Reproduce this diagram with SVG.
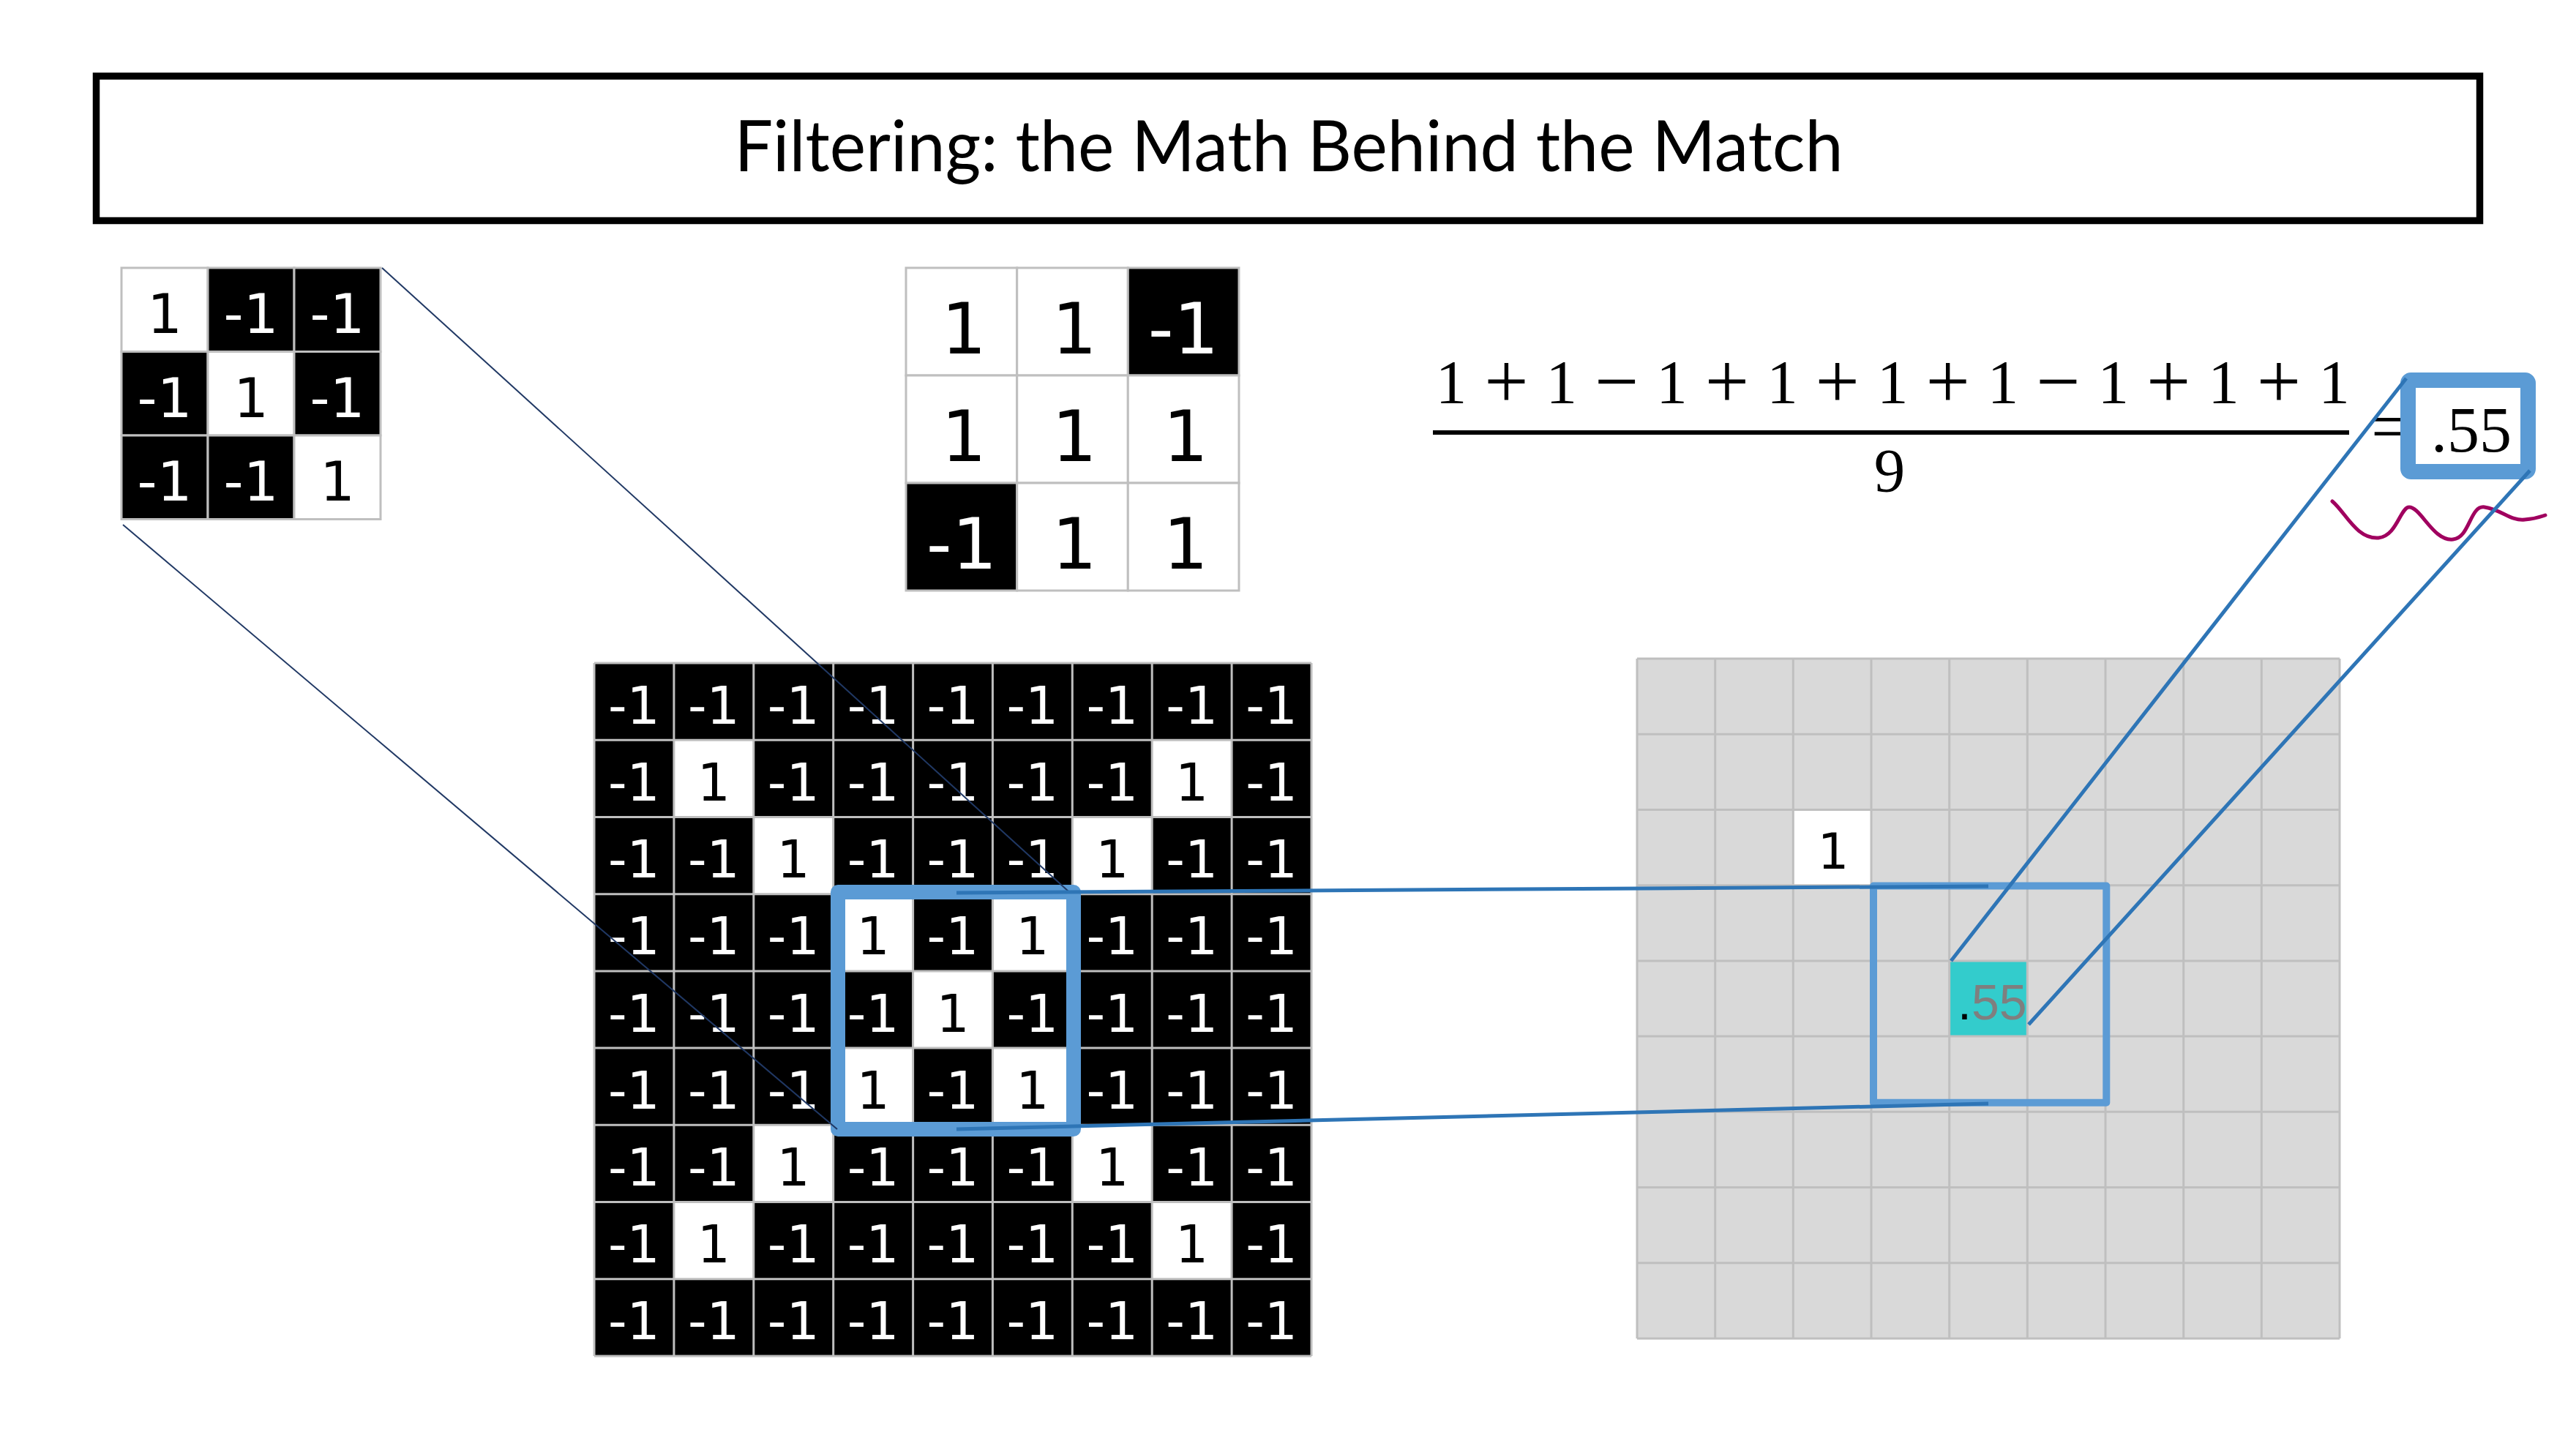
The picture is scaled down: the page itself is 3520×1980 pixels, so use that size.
<svg xmlns="http://www.w3.org/2000/svg" width="3520" height="1980" viewBox="0 0 3520 1980">
<style>
.grid{stroke:#bfbfbf;stroke-width:3}
.gl{fill:none;stroke:#bfbfbf;stroke-width:3}
.blk{fill:#000}
.wht{fill:#fff}
.num{font-family:"DejaVu Sans",sans-serif;text-anchor:middle}
.w{fill:#fff}
.b{fill:#000}
.math{font-family:"Liberation Serif","DejaVu Serif",serif;fill:#000}
.op{font-size:107px}
.conn{stroke:#2E75B6;stroke-width:5;fill:none;stroke-linecap:butt}
.thin{stroke:#203864;stroke-width:2;fill:none}
</style>
<rect width="3520" height="1980" fill="#fff"/>

<g id="title">
<rect x="131.5" y="104" width="3257" height="197.5" fill="#fff" stroke="#000" stroke-width="9.5"/>
<text x="1761" y="234" font-family="Lato,'Open Sans',sans-serif" font-size="96" text-anchor="middle" textLength="1515" lengthAdjust="spacingAndGlyphs" fill="#000">Filtering: the Math Behind the Match</text>
</g>

<g id="filter">
<rect x="166" y="366" width="118" height="114.5" class="wht grid"/>
<rect x="284" y="366" width="118" height="114.5" class="blk grid"/>
<rect x="402" y="366" width="118" height="114.5" class="blk grid"/>
<rect x="166" y="480.5" width="118" height="114.5" class="blk grid"/>
<rect x="284" y="480.5" width="118" height="114.5" class="wht grid"/>
<rect x="402" y="480.5" width="118" height="114.5" class="blk grid"/>
<rect x="166" y="595" width="118" height="114.5" class="blk grid"/>
<rect x="284" y="595" width="118" height="114.5" class="blk grid"/>
<rect x="402" y="595" width="118" height="114.5" class="wht grid"/>
<text class="num" font-size="75" y="455"><tspan x="225" class="b">1</tspan><tspan x="343" class="w">-1</tspan><tspan x="461" class="w">-1</tspan></text>
<text class="num" font-size="75" y="570"><tspan x="225" class="w">-1</tspan><tspan x="343" class="b">1</tspan><tspan x="461" class="w">-1</tspan></text>
<text class="num" font-size="75" y="684"><tspan x="225" class="w">-1</tspan><tspan x="343" class="w">-1</tspan><tspan x="461" class="b">1</tspan></text>
</g>

<g id="product">
<rect x="1238" y="366" width="151.7" height="147" class="wht grid"/>
<rect x="1389.7" y="366" width="151.6" height="147" class="wht grid"/>
<rect x="1541.3" y="366" width="151.7" height="147" class="blk grid"/>
<rect x="1238" y="513" width="151.7" height="147" class="wht grid"/>
<rect x="1389.7" y="513" width="151.6" height="147" class="wht grid"/>
<rect x="1541.3" y="513" width="151.7" height="147" class="wht grid"/>
<rect x="1238" y="660" width="151.7" height="147" class="blk grid"/>
<rect x="1389.7" y="660" width="151.6" height="147" class="wht grid"/>
<rect x="1541.3" y="660" width="151.7" height="147" class="wht grid"/>
<text class="num" font-size="97" y="482.5"><tspan x="1317" class="b">1</tspan><tspan x="1468" class="b">1</tspan><tspan x="1617" class="w">-1</tspan></text>
<text class="num" font-size="97" y="629.5"><tspan x="1317" class="b">1</tspan><tspan x="1468" class="b">1</tspan><tspan x="1620" class="b">1</tspan></text>
<text class="num" font-size="97" y="776.5"><tspan x="1314" class="w">-1</tspan><tspan x="1468" class="b">1</tspan><tspan x="1620" class="b">1</tspan></text>
</g>

<g id="image">
<rect x="812" y="906" width="980" height="947" fill="#000"/>
<g class="wht">
<rect x="920.9" y="1011.2" width="108.9" height="105.2"/>
<rect x="1574.2" y="1011.2" width="108.9" height="105.2"/>
<rect x="1029.8" y="1116.4" width="108.9" height="105.2"/>
<rect x="1465.3" y="1116.4" width="108.9" height="105.2"/>
<rect x="1138.7" y="1221.7" width="108.9" height="105.2"/>
<rect x="1356.4" y="1221.7" width="108.9" height="105.2"/>
<rect x="1247.6" y="1326.9" width="108.9" height="105.2"/>
<rect x="1138.7" y="1432.1" width="108.9" height="105.2"/>
<rect x="1356.4" y="1432.1" width="108.9" height="105.2"/>
<rect x="1029.8" y="1537.3" width="108.9" height="105.2"/>
<rect x="1465.3" y="1537.3" width="108.9" height="105.2"/>
<rect x="920.9" y="1642.6" width="108.9" height="105.2"/>
<rect x="1574.2" y="1642.6" width="108.9" height="105.2"/>
</g>
<path class="gl" d="M812,906V1853M920.9,906V1853M1029.8,906V1853M1138.7,906V1853M1247.6,906V1853M1356.4,906V1853M1465.3,906V1853M1574.2,906V1853M1683.1,906V1853M1792,906V1853M812,906H1792M812,1011.2H1792M812,1116.4H1792M812,1221.7H1792M812,1326.9H1792M812,1432.1H1792M812,1537.3H1792M812,1642.6H1792M812,1747.8H1792M812,1853H1792"/>
<g class="num" font-size="71">
<text y="988.6"><tspan x="866.4" class="w">-1</tspan><tspan x="975.3" class="w">-1</tspan><tspan x="1084.2" class="w">-1</tspan><tspan x="1193.1" class="w">-1</tspan><tspan x="1302" class="w">-1</tspan><tspan x="1410.9" class="w">-1</tspan><tspan x="1519.8" class="w">-1</tspan><tspan x="1628.7" class="w">-1</tspan><tspan x="1737.6" class="w">-1</tspan></text>
<text y="1093.8"><tspan x="866.4" class="w">-1</tspan><tspan x="975.3" class="b">1</tspan><tspan x="1084.2" class="w">-1</tspan><tspan x="1193.1" class="w">-1</tspan><tspan x="1302" class="w">-1</tspan><tspan x="1410.9" class="w">-1</tspan><tspan x="1519.8" class="w">-1</tspan><tspan x="1628.7" class="b">1</tspan><tspan x="1737.6" class="w">-1</tspan></text>
<text y="1199.1"><tspan x="866.4" class="w">-1</tspan><tspan x="975.3" class="w">-1</tspan><tspan x="1084.2" class="b">1</tspan><tspan x="1193.1" class="w">-1</tspan><tspan x="1302" class="w">-1</tspan><tspan x="1410.9" class="w">-1</tspan><tspan x="1519.8" class="b">1</tspan><tspan x="1628.7" class="w">-1</tspan><tspan x="1737.6" class="w">-1</tspan></text>
<text y="1304.3"><tspan x="866.4" class="w">-1</tspan><tspan x="975.3" class="w">-1</tspan><tspan x="1084.2" class="w">-1</tspan><tspan x="1193.1" class="b">1</tspan><tspan x="1302" class="w">-1</tspan><tspan x="1410.9" class="b">1</tspan><tspan x="1519.8" class="w">-1</tspan><tspan x="1628.7" class="w">-1</tspan><tspan x="1737.6" class="w">-1</tspan></text>
<text y="1409.5"><tspan x="866.4" class="w">-1</tspan><tspan x="975.3" class="w">-1</tspan><tspan x="1084.2" class="w">-1</tspan><tspan x="1193.1" class="w">-1</tspan><tspan x="1302" class="b">1</tspan><tspan x="1410.9" class="w">-1</tspan><tspan x="1519.8" class="w">-1</tspan><tspan x="1628.7" class="w">-1</tspan><tspan x="1737.6" class="w">-1</tspan></text>
<text y="1514.7"><tspan x="866.4" class="w">-1</tspan><tspan x="975.3" class="w">-1</tspan><tspan x="1084.2" class="w">-1</tspan><tspan x="1193.1" class="b">1</tspan><tspan x="1302" class="w">-1</tspan><tspan x="1410.9" class="b">1</tspan><tspan x="1519.8" class="w">-1</tspan><tspan x="1628.7" class="w">-1</tspan><tspan x="1737.6" class="w">-1</tspan></text>
<text y="1620"><tspan x="866.4" class="w">-1</tspan><tspan x="975.3" class="w">-1</tspan><tspan x="1084.2" class="b">1</tspan><tspan x="1193.1" class="w">-1</tspan><tspan x="1302" class="w">-1</tspan><tspan x="1410.9" class="w">-1</tspan><tspan x="1519.8" class="b">1</tspan><tspan x="1628.7" class="w">-1</tspan><tspan x="1737.6" class="w">-1</tspan></text>
<text y="1725.2"><tspan x="866.4" class="w">-1</tspan><tspan x="975.3" class="b">1</tspan><tspan x="1084.2" class="w">-1</tspan><tspan x="1193.1" class="w">-1</tspan><tspan x="1302" class="w">-1</tspan><tspan x="1410.9" class="w">-1</tspan><tspan x="1519.8" class="w">-1</tspan><tspan x="1628.7" class="b">1</tspan><tspan x="1737.6" class="w">-1</tspan></text>
<text y="1830.4"><tspan x="866.4" class="w">-1</tspan><tspan x="975.3" class="w">-1</tspan><tspan x="1084.2" class="w">-1</tspan><tspan x="1193.1" class="w">-1</tspan><tspan x="1302" class="w">-1</tspan><tspan x="1410.9" class="w">-1</tspan><tspan x="1519.8" class="w">-1</tspan><tspan x="1628.7" class="w">-1</tspan><tspan x="1737.6" class="w">-1</tspan></text>
</g>
<rect id="patch" x="1145" y="1219" width="322" height="324" fill="none" stroke="#5B9BD5" stroke-width="20" stroke-linejoin="round"/>
</g>

<g id="result-map">
<rect x="2237" y="900" width="960" height="929" fill="#d9d9d9"/>
<rect x="2450.3" y="1106.4" width="106.7" height="103.2" fill="#fff"/>
<rect x="2663.7" y="1312.9" width="106.6" height="103.2" fill="#33CCCC"/>
<path class="gl" d="M2237,900V1829M2343.7,900V1829M2450.3,900V1829M2557,900V1829M2663.7,900V1829M2770.3,900V1829M2877,900V1829M2983.7,900V1829M3090.3,900V1829M3197,900V1829M2237,900H3197M2237,1003.2H3197M2237,1106.4H3197M2237,1209.7H3197M2237,1312.9H3197M2237,1416.1H3197M2237,1519.3H3197M2237,1622.6H3197M2237,1725.8H3197M2237,1829H3197"/>
<text class="num b" font-size="67" x="2505" y="1186.5">1</text>
<text x="2675" y="1393" font-family="'Liberation Sans',Arial,sans-serif" font-size="68"><tspan fill="#000">.</tspan><tspan fill="#7f7f7f">55</tspan></text>
<rect x="2560" y="1210.5" width="318.3" height="296.2" fill="none" stroke="#5B9BD5" stroke-width="10" stroke-linejoin="round"/>
</g>

<g id="equation" class="math">
<text font-size="85" y="551" text-anchor="middle"><tspan x="1983" y="551">1</tspan><tspan class="op" x="2058.4" y="557">+</tspan><tspan x="2133.8" y="551">1</tspan><tspan class="op" x="2209.2" y="557">−</tspan><tspan x="2284.6" y="551">1</tspan><tspan class="op" x="2360" y="557">+</tspan><tspan x="2435.4" y="551">1</tspan><tspan class="op" x="2510.8" y="557">+</tspan><tspan x="2586.2" y="551">1</tspan><tspan class="op" x="2661.6" y="557">+</tspan><tspan x="2737" y="551">1</tspan><tspan class="op" x="2812.4" y="557">−</tspan><tspan x="2887.8" y="551">1</tspan><tspan class="op" x="2963.2" y="557">+</tspan><tspan x="3038.6" y="551">1</tspan><tspan class="op" x="3114" y="557">+</tspan><tspan x="3189.4" y="551">1</tspan></text>
<rect x="1958" y="588" width="1252" height="6" fill="#000"/>
<text font-size="85" x="2582" y="672" text-anchor="middle">9</text>
<text font-size="95" x="3240" y="615">=</text>
</g>

<g id="result">
<rect x="3290.5" y="519.5" width="164" height="125" rx="4" fill="#fff" stroke="#5B9BD5" stroke-width="21" stroke-linejoin="round"/>
<text class="math" font-size="88" x="3377" y="616.5" text-anchor="middle">.55</text>
</g>

<path id="squiggle" d="M3187,685 C3205,700 3220,737 3250,735 C3275,733 3280,693 3292,693 C3308,693 3325,740 3352,737 C3375,735 3375,690 3395,693 C3420,697 3430,712 3450,710 C3465,709 3472,706 3478,704" fill="none" stroke="#A0005F" stroke-width="5" stroke-linecap="round"/>

<g id="connectors">
<line class="thin" x1="522" y1="366" x2="1460" y2="1218"/>
<line class="thin" x1="168" y1="717" x2="1144" y2="1543"/>
<line class="conn" x1="1307" y1="1220" x2="2717" y2="1211"/>
<line class="conn" x1="1307" y1="1543" x2="2717" y2="1508"/>
<line class="conn" x1="2666" y1="1313" x2="3288" y2="517"/>
<line class="conn" x1="2772" y1="1400" x2="3457" y2="643"/>
</g>
</svg>
